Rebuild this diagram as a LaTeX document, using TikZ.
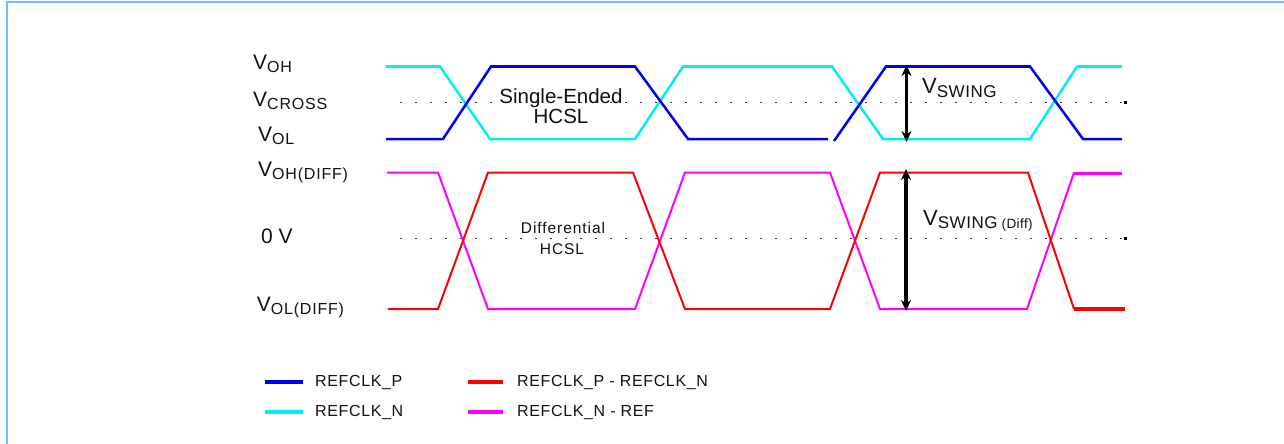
\documentclass[tikz,border=0pt]{standalone}
\usepackage{fontspec}
\setmainfont{Liberation Sans}
\usetikzlibrary{arrows.meta}
\definecolor{framec}{HTML}{6CC0FF}
\definecolor{wblue}{HTML}{0000F0}
\definecolor{wcyan}{HTML}{00F0F0}
\definecolor{wred}{HTML}{FF0000}
\definecolor{wmag}{HTML}{FF00FF}
\definecolor{txt}{HTML}{111111}
\newcommand\fs[1]{\fontsize{#1}{#1}\selectfont}
\newcommand\lsp[1]{\addfontfeatures{LetterSpace=#1}}
\newcommand\Vlab[1]{{\fs{21}V}{\fs{16}\lsp{5}\raisebox{-3pt}{#1}}}
\tikzset{
  lbl/.style={anchor=base west, inner sep=0pt, text=txt},
  mid/.style={anchor=base, inner sep=0pt, text=txt},
  wave/.style={line width=2.5pt, line join=miter},
  dwave/.style={line width=2pt, line join=miter},
  endseg/.style={line width=3.6pt},
  dots/.style={draw=black!80, line width=1.3pt, dash pattern=on 2pt off 13pt},
  swing/.style={line width=3.2pt, {Stealth[length=11pt,width=10pt]}-{Stealth[length=11pt,width=10pt]}},
  leg/.style={line width=3.2pt}
}
\begin{document}
\begin{tikzpicture}[x=1pt,y=-1pt]
\useasboundingbox (0,0) rectangle (1284,444);
% frame
\draw[framec, line width=2pt] (7,444) -- (7,2) -- (1284,2);
% dotted reference lines
\coordinate (d1a) at (400,102.5); \coordinate (d1b) at (1125,102.5);
\coordinate (d2a) at (400,238.5); \coordinate (d2b) at (1125,238.5);
\draw[dots] (d1a) -- (d1b);
\draw[dots] (d2a) -- (d2b);
\fill[black] (1124,101.3) rectangle (1126.8,104);
\fill[black] (1124,237.3) rectangle (1126.8,240);
% single-ended waveforms
\draw[wcyan, wave] (386,66.5) -- (440,66.5) -- (490,139) -- (635,139) -- (683,66.5) -- (832,66.5) -- (883,139) -- (1030,139) -- (1077,66.5);
\draw[wcyan, endseg] (1077,66.5) -- (1122,66.5);
\draw[wblue, wave] (386,139) -- (443,139) -- (491,66.5) -- (635,66.5) -- (688,139) -- (828,139);
\draw[wblue, wave] (834,141) -- (886,66.5) -- (1030,66.5) -- (1083,139) -- (1122,139);
% differential waveforms
\draw[wmag, dwave] (387,172.5) -- (438,172.5) -- (488,309) -- (635,309) -- (685,172.5) -- (830,172.5) -- (880,309) -- (1027,309) -- (1074,172.5);
\draw[wmag, endseg] (1074,173.5) -- (1122,173.5);
\draw[wred, dwave] (388,309) -- (438,309) -- (488,172.5) -- (633,172.5) -- (685,309) -- (830,309) -- (880,172.5) -- (1028,172.5) -- (1074,309);
\draw[wred, endseg] (1074,309) -- (1125,309);
% swing arrows
\coordinate (s1t) at (906.5,65); \coordinate (s1b) at (906.5,142);
\coordinate (s2t) at (906,169); \coordinate (s2b) at (906,311);
\draw[swing] (s1t) -- (s1b);
\draw[swing] (s2t) -- (s2b);
% left labels
\node[lbl] (voh) at (253,70) {\Vlab{OH}};
\node[lbl] (vcross) at (253,106.7) {\Vlab{CROSS}};
\node[lbl] (vol) at (258,141.7) {\Vlab{OL}};
\node[lbl] (vohd) at (258,176.7) {\Vlab{OH(DIFF)}};
\node[lbl] (zero) at (261,243) {\fs{21}0 V};
\node[lbl] (vold) at (256.7,311.7) {\Vlab{OL(DIFF)}};
% inner labels
\node[mid] (se1) at (561,103) {\fs{20.5}Single-Ended};
\node[mid] (se2) at (561,123) {\fs{20.5}HCSL};
\node[mid] (di1) at (563,233) {\fs{15.5}\lsp{6}Differential};
\node[mid] (di2) at (562,254) {\fs{15.5}\lsp{6}HCSL};
\node[lbl] (vsw) at (922,93.3) {{\fs{22}V}{\fs{17}\lsp{3}\raisebox{-4pt}{SWING}}};
\node[lbl] (vswd) at (923,225) {{\fs{22}V}{\fs{17}\lsp{3}\raisebox{-3pt}{SWING}}{\fs{13.5}\lsp{3}\raisebox{-3pt}{ (Diff)}}};
% legend
\coordinate (l1a) at (265,382); \coordinate (l1b) at (303,382);
\coordinate (l2a) at (265,412); \coordinate (l2b) at (303,412);
\coordinate (l3a) at (468,382); \coordinate (l3b) at (503,382);
\coordinate (l4a) at (468,412); \coordinate (l4b) at (503,412);
\draw[wblue, leg] (l1a) -- (l1b);
\draw[wcyan, leg] (l2a) -- (l2b);
\draw[wred, leg] (l3a) -- (l3b);
\draw[wmag, leg] (l4a) -- (l4b);
\node[lbl] (t1) at (315,386.7) {\fs{16}\lsp{4}REFCLK\_P};
\node[lbl] (t2) at (315,416.7) {\fs{16}\lsp{4}REFCLK\_N};
\node[lbl] (t3) at (517,386.7) {\fs{16}\lsp{4}REFCLK\_P - REFCLK\_N};
\node[lbl] (t4) at (517,416.7) {\fs{16}\lsp{4}REFCLK\_N - REF};
\end{tikzpicture}
\end{document}
